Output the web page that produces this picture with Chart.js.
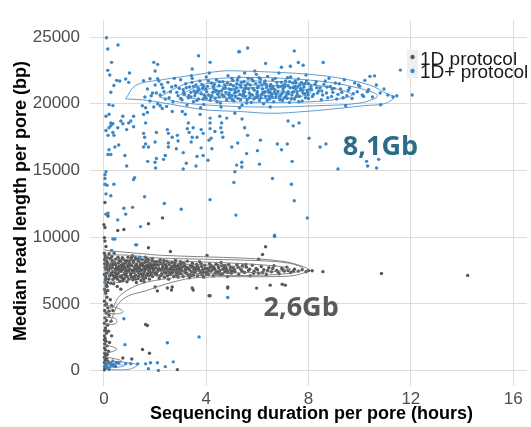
<!DOCTYPE html>
<html lang="en">
<head>
    <meta charset="UTF-8">
    <title>Median read length vs sequencing duration</title>
    <script src="https://cdn.jsdelivr.net/npm/chart.js"></script>
    <style>
        body {
            margin: 0;
            background-color: #ffffff;
            overflow: hidden;
        }

        #wrap {
            width: 531px;
            height: 427px;
        }
    </style>
</head>
<body>
    <div id="wrap"><canvas id="myChart"></canvas></div>

    <script>
        // Series names and tick values
        const seriesNames = ["1D protocol", "1D+ protocol"];
        const xTicks = [0, 4, 8, 12, 16];
        const yTicks = [0, 5000, 10000, 15000, 20000, 25000];
        const yieldLabels = ["8,1Gb", "2,6Gb"];

        // 1D+ protocol (blue), scattered points
        const bluePoints = [
            [0.1,24950],[0.15,24100],[0.55,24400],[0.3,23100],[0.15,22500],[0.23,22150],[1.95,23100],[2.1,22950],
            [3.7,23600],[4.15,23100],[5.3,23900],[2.0,22450],[3.45,22600],[1.0,22300],[0.5,21750],[0.62,21700],
            [0.85,21850],[0.97,21600],[1.55,21730],[1.8,21870],[2.1,21870],[0.39,21370],[0.27,20860],[0.2,19930],
            [0.35,19860],[0.08,19060],[0.2,19210],[0.27,18560],[0.74,19060],[0.66,18700],[1.05,18700],[1.16,19060],
            [1.5,19850],[1.63,19700],[1.7,19350],[1.55,19200],[2.2,19850],[2.28,19640],[2.67,19420],[3.06,19420],
            [3.18,19210],[3.3,18560],[3.76,19200],[4.15,18920],[4.15,18560],[4.53,19060],[4.6,18560],[4.8,18920],
            [5.12,19280],[5.4,18850],
            [0.08,17990],[0.2,18200],[0.27,18350],[0.35,18500],[0.16,17630],[0.39,17630],[0.35,17850],[0.54,18200],
            [0.74,18500],[0.97,18560],[1.16,18270],[1.63,18560],[0.89,18060],[0.2,16550],[0.16,16190],[0.27,16190],
            [0.43,16760],[0.58,16900],[0.82,16120],[0.89,15330],[1.55,17780],[1.59,17490],[1.63,16980],[1.74,16760],
            [1.55,16760],[2.05,17850],[2.0,17130],[1.71,15680],[2.0,15610],[2.05,15900],[2.33,15830],[2.4,16120],
            [2.02,15180],[2.48,18060],[2.52,17780],[2.67,17490],[2.87,17630],[2.9,17200],[2.52,17060],[2.52,16760],
            [2.83,16620],[3.1,16330],[3.22,15540],[3.1,15110],[3.26,18130],[3.45,17490],[3.64,17490],[3.41,17130],
            [3.33,17850],[3.49,18200],[3.8,18060],[3.88,17780],[3.8,16690],[3.88,16120],[3.64,16050],[3.6,15330],
            [4.07,15760],[4.15,18130],[4.19,17420],[4.22,16620],[4.11,17270],[4.34,17920],[4.61,17850],[4.65,17490],
            [4.57,18200],[5.0,16760],[5.23,17060],[5.19,15400],[5.39,15260],[5.12,14900],
            [0.08,14900],[0.04,14680],[0.04,14390],[0.04,13960],[0.12,13890],[0.08,13240],[0.27,13100],[0.39,13960],
            [1.2,14460],[1.16,14320],[1.59,13030],[2.36,12520],[3.02,12090],[4.15,12810],[5.08,14100],[5.16,11650],
            [0.08,11720],[0.16,11800],[0.78,12160],[1.12,12230],[0.85,11720],[0.54,11290],[1.43,10790],
            [5.5,18200],[5.62,17630],[6.12,17270],[5.58,16260],[6.0,16480],[5.39,15610],[6.08,15470],[6.78,16980],
            [6.94,16550],[7.17,16980],[7.36,15680],[7.4,18340],[7.63,18560],[7.2,18700],[8.02,17420],[8.45,16760],
            [8.68,16980],[9.15,15110],[10.27,15680],[10.31,15330],[10.66,15180],[10.74,15830],
            [6.59,14390],[7.33,13960],[7.44,12730],[7.95,11430],[6.67,10140],
            [5.27,23890],[5.62,24180],[7.44,23960],[6.32,23020],[6.94,22730],[7.29,22810],[7.6,23090],[7.79,22880],
            [8.57,23090],[10.58,22090],[11.59,22520],[12.05,20650],[10.82,19920],
            [0.43,9860],[1.28,9420],[0.35,9860],[1.24,9420],[1.4,8490],[4.84,5470],[0.3,9000],[0.04,6620],
            [0.78,3880],[3.72,2520],[2.48,2080],[0.82,1940],[2.71,650],[2.4,290],[2.09,580],[1.82,580],
            [1.74,140],[2.13,0],[1.63,500],[1.32,500],[1.05,500],[0.85,500],[0.58,580],[0.16,580],
            [0.27,360],[0.2,140],[0.35,720],[0.12,290],[0.3,500],[0.4,400],
            // dense core
            [1.6,20500],[1.7,21100],[1.8,20200],[1.9,20800],[2.0,21400],[2.1,20000],[2.2,20650],[2.3,21200],
            [2.4,20350],[2.5,21600],[2.6,20900],[2.7,20150],[2.8,21350],[2.9,20600],[3.0,21800],[2.15,21700],
            [2.45,19800],[2.75,21900],[1.95,19750],
            [3.05,20300],[3.1,21050],[3.15,20700],[3.2,21500],[3.25,19900],[3.3,20450],[3.35,21250],[3.4,20850],
            [3.45,21900],[3.5,20150],[3.55,20600],[3.6,21400],[3.65,20950],[3.7,20350],[3.75,21700],[3.8,20750],
            [3.85,21150],[3.9,19950],[3.95,20500],[4.0,22000],[4.05,21300],[4.1,20650],[4.15,20250],[4.2,21550],
            [4.25,20850],[4.3,21100],[4.35,20400],[4.4,21800],[4.45,20700],[4.5,21350],[4.55,20050],[4.6,20950],
            [4.65,21650],[4.7,20550],[4.75,21200],[4.8,20300],[4.85,22100],[4.9,20800],[4.95,21450],[3.42,22100],
            [3.78,19700],[4.12,22300],[4.58,19750],
            [5.0,20600],[5.04,21750],[5.08,20200],[5.12,21050],[5.16,20850],[5.2,21500],[5.24,20400],[5.28,22000],
            [5.32,20700],[5.36,21250],[5.4,19900],[5.44,20950],[5.48,21650],[5.52,20550],[5.56,21150],[5.6,20300],
            [5.64,21900],[5.68,20800],[5.72,21400],[5.76,20100],[5.8,20650],[5.84,21700],[5.88,21000],[5.92,20450],
            [5.96,22200],[6.0,20900],[6.04,21300],[6.08,20250],[6.12,21850],[6.16,20700],[6.2,21100],[6.24,20000],
            [6.28,21550],[6.32,20550],[6.36,21250],[6.4,22050],[6.44,20850],[6.48,20350],[6.52,21450],[6.56,20700],
            [6.6,21800],[6.64,20150],[6.68,21050],[6.72,20500],[6.76,21600],[6.8,20900],[6.84,22300],[6.88,20300],
            [6.92,21300],[6.96,20750],[5.3,19700],[6.5,19750],[5.9,22450],[5.5,22300],
            [7.0,21100],[7.05,20450],[7.1,21700],[7.15,20800],[7.2,21350],[7.25,20100],[7.3,22000],[7.35,20650],
            [7.4,21200],[7.45,20350],[7.5,21550],[7.55,20900],[7.6,21850],[7.65,20550],[7.7,21150],[7.75,20200],
            [7.8,21450],[7.85,20750],[7.9,22150],[7.95,21000],[8.0,20400],[8.1,21300],[8.2,20700],[8.3,21650],
            [8.4,20950],[8.5,20300],[8.6,21450],[8.7,20800],[8.8,21900],[8.9,20550],[9.0,21150],
            [9.1,20350],[9.2,21500],[9.3,20850],[9.4,21800],[9.5,20600],[9.6,21200],[9.7,20400],[9.8,21550],
            [9.9,20900],[10.0,21300],[10.1,20650],[10.2,21750],[10.35,21050],[10.5,20500],[10.65,21400],[10.8,20800],
            [10.95,21100],[11.1,20650],[11.3,20500],[11.45,20600],[9.45,19850],[10.4,22050],
            [3.12,20850],[3.22,21200],[3.32,20600],[3.44,21600],[3.52,20950],[3.63,20250],[3.72,21050],[3.83,21450],
            [3.92,20650],[4.02,20900],[4.08,21700],[4.18,20450],[4.27,21300],[4.37,20950],[4.42,20150],[4.52,21650],
            [4.62,20650],[4.67,21150],[4.77,20850],[4.83,21550],[4.92,20450],[4.98,21050],[5.06,21350],[5.14,20550],
            [5.22,21800],[5.26,20950],[5.34,20300],[5.38,21600],[5.46,20750],[5.54,21350],[5.58,20050],[5.66,21100],
            [5.74,20700],[5.78,21850],[5.86,20350],[5.94,21500],[6.02,20600],[6.06,21950],[6.14,20450],[6.18,21400],
            [6.26,20800],[6.3,21700],[6.38,20250],[6.42,21000],[6.5,21300],[6.58,20500],[6.62,21150],[6.7,21900],
            [6.74,20700],[6.82,21250],[6.86,20550],[6.94,21600],[6.98,20250],[7.02,20900],[7.08,21450],[7.12,20600],
            [7.18,21950],[7.22,20750],[7.28,21200],[7.32,20350],[7.38,21550],[7.42,20900],[7.48,21700],[7.52,20550],
            [7.58,21300],[7.62,20150],[7.68,21000],[7.72,21600],[7.78,20800],[7.82,21250],[7.88,20450],[7.92,21700],
            [7.98,20650],[8.05,21100],[8.15,20550],[8.25,21450],[8.35,20800],[8.45,21200],[8.55,20650],[8.65,21700],
            [8.75,20450],[8.85,21300],[8.95,20850],[9.05,21550],[9.15,20700],[9.25,21100],[9.35,20450],[9.55,21000],
            [9.75,20750],[9.95,21400],[10.15,20550],[10.3,20900],[2.35,20900],[2.55,20450],[2.65,21250],[2.85,20850],
            [2.95,21150],[2.25,21450],[1.85,20600],[2.05,20800],[3.0,20400],[3.5,21300],[4.0,20400],[4.5,20500],
            [5.0,21900],[5.5,20900],[6.0,21200],[6.5,20850],[7.0,21350],[7.5,21100],[8.0,21500],
            [3.58,20800],[3.68,21200],[3.88,20350],[3.98,21100],[4.22,20600],[4.32,21450],[4.48,20900],[4.72,21400],
            [4.88,20650],[5.02,20300],[5.18,21200],[5.32,21400],[5.42,20600],[5.62,21500],[5.7,20450],[5.82,21150],
            [5.98,20750],[6.1,21600],[6.22,20850],[6.34,21450],[6.46,20550],[6.54,21100],[6.66,20850],[6.78,21350],
            [6.9,20600],[7.06,21250],[7.16,20400],[7.26,21650],[7.36,20850],[7.46,21300],[7.56,20700],[7.66,21400],
            [7.76,21000],[7.86,21500],[7.96,20850],[8.12,21050],[8.32,21200],[8.52,20950],[8.72,21250],[8.92,21100],
            [4.4,21000],[4.9,21100],[5.5,21100],[6.0,20500],[6.6,21300],[7.2,20900],[3.4,20500],[3.9,21300],
            [5.1,20800],[6.3,20900]
        ];

        // 1D protocol (grey), scattered points
        const greyPoints = [
            [0.04,12590],[0.16,11580],[0.0,10930],[0.04,10720],[0.54,10500],[0.78,10570],[1.74,11000],[2.29,11440],
            [1.74,9200],[2.6,8920],[6.67,10070],[6.32,9280],[6.2,8700],[6.05,8340],[8.14,7480],[8.56,7410],
            [10.85,7270],[14.22,7130],[5.97,6180],[6.5,6400],[6.97,6470],[7.09,6400],[4.84,6180],[4.11,5610],
            [4.03,8630],[2.09,5970],[2.48,6190],[2.67,6260],[2.64,6040],[3.45,6190],[3.49,6040],[4.15,5610],
            [4.84,6260],[2.0,6260],[1.63,3450],[1.7,3380],[1.51,1580],[1.78,1290],[2.87,70],[1.09,860],[0.74,940],
            // column along the left edge
            [0.02,8800],[0.05,8400],[0.03,8000],[0.08,7600],[0.02,7200],[0.06,6800],[0.1,6400],[0.03,6100],
            [0.07,5800],[0.12,5500],[0.02,5200],[0.05,4900],[0.15,4700],[0.03,4500],[0.09,4300],[0.2,4150],
            [0.04,3950],[0.1,3750],[0.02,3550],[0.14,3400],[0.06,3200],[0.03,3000],[0.1,2800],[0.02,2600],
            [0.05,2400],[0.08,2200],[0.03,2000],[0.12,1850],[0.02,1700],[0.06,1550],[0.18,1450],[0.03,1300],
            [0.08,1150],[0.02,1000],[0.11,900],[0.05,800],[0.15,700],[0.02,600],[0.25,550],[0.07,450],
            [0.35,400],[0.03,300],[0.12,250],[0.04,150],[0.2,100],[0.02,50],[0.5,600],[0.45,300],
            [0.15,6000],[0.25,5300],[0.2,4450],[0.28,3700],[0.18,2950],[0.3,2600],[0.22,2100],[0.08,9300],
            [0.04,9700],[0.02,9950],[0.1,5000],[0.06,3000],[0.3,4850],[0.35,4500],[0.02,2300],[0.13,1200],
            // dense band
            [0.05,8600],[0.1,8200],[0.12,7900],[0.18,7500],[0.22,7100],[0.08,6900],[0.15,6600],[0.25,8400],
            [0.3,8000],[0.33,7700],[0.28,7300],[0.35,6800],[0.4,8800],[0.42,8100],[0.45,7600],[0.48,7200],
            [0.5,7000],[0.55,8500],[0.58,7800],[0.6,7400],[0.62,6700],[0.65,8200],[0.68,7900],[0.7,7100],
            [0.73,7550],[0.76,8350],[0.8,6900],[0.82,7700],[0.85,8050],[0.88,7300],[0.9,6650],[0.93,7850],
            [0.96,7450],[0.98,8150],[0.2,8750],[0.38,6500],[0.52,6300],[0.66,6100],[0.12,6300],[0.06,5900],
            [0.3,7850],[0.44,7350],[0.57,8050],[0.71,7750],[0.84,7150],
            [1.02,7600],[1.05,8300],[1.08,7000],[1.1,7850],[1.13,6800],[1.15,8100],[1.18,7350],[1.2,7700],
            [1.23,8450],[1.25,7150],[1.28,7950],[1.3,7450],[1.33,6900],[1.35,8200],[1.38,7650],[1.4,7250],
            [1.43,8000],[1.45,6750],[1.48,7550],[1.5,8300],[1.53,7100],[1.55,7800],[1.58,7400],[1.6,8100],
            [1.63,6950],[1.65,7650],[1.68,8350],[1.7,7250],[1.73,7900],[1.75,7500],[1.78,6850],[1.8,8050],
            [1.83,7350],[1.85,7750],[1.88,8250],[1.9,7050],[1.93,7600],[1.96,7950],[1.98,7300],[1.12,8600],
            [1.62,8500],[1.27,6600],[1.57,6650],
            [2.02,7700],[2.05,8150],[2.08,7150],[2.1,7450],[2.13,7900],[2.16,6900],[2.2,8300],[2.23,7550],
            [2.26,7250],[2.3,7800],[2.33,8050],[2.36,7000],[2.4,7650],[2.43,7350],[2.46,8200],[2.5,7500],
            [2.53,6850],[2.56,7950],[2.6,7200],[2.63,7700],[2.66,8100],[2.7,7400],[2.73,7050],[2.76,7850],
            [2.8,8250],[2.83,7300],[2.86,7600],[2.9,7000],[2.93,7950],[2.96,7450],[2.99,8150],
            [3.02,7250],[3.06,7750],[3.1,7050],[3.14,8000],[3.18,7500],[3.22,7300],[3.26,8200],[3.3,7650],
            [3.34,6950],[3.38,7850],[3.42,7400],[3.46,8050],[3.5,7150],[3.54,7700],[3.58,7450],[3.62,7950],
            [3.66,7100],[3.7,7600],[3.74,8150],[3.78,7300],[3.82,7800],[3.86,7550],[3.9,7000],[3.94,7900],
            [3.98,7350],
            [4.03,7650],[4.08,7200],[4.13,8000],[4.18,7450],[4.23,7800],[4.28,7100],[4.33,7600],[4.38,7950],
            [4.43,7300],[4.48,7700],[4.53,7500],[4.58,8100],[4.63,7250],[4.68,7850],[4.73,7400],[4.78,7650],
            [4.83,7050],[4.88,7950],[4.93,7550],[4.98,7300],
            [5.05,7700],[5.12,7400],[5.2,7950],[5.27,7200],[5.35,7600],[5.42,7850],[5.5,7350],[5.57,7750],
            [5.65,7500],[5.72,7100],[5.8,7900],[5.87,7450],[5.95,7650],
            [6.05,7300],[6.15,7800],[6.25,7550],[6.35,7200],[6.45,7700],[6.55,7400],[6.65,7850],[6.75,7500],
            [6.85,7250],[6.95,7650],[7.05,7450],[7.15,7750],[7.3,7350],[7.45,7600],[7.6,7450],[7.75,7550],
            [7.9,7400],[8.0,7500],
            [0.15,8050],[0.25,7650],[0.35,7400],[0.45,7950],[0.55,7250],[0.65,7600],[0.75,8000],[0.85,7450],
            [0.95,7750],[1.05,7150],[1.15,7500],[1.25,7900],[1.35,7350],[1.45,8050],[1.55,7250],[1.65,7850],
            [1.75,7100],[1.85,7950],[1.95,7550],[2.05,7350],[2.15,7650],[2.25,8000],[2.35,7450],[2.45,7800],
            [2.55,7250],[2.65,7550],[2.75,7950],[2.85,7150],[2.95,7700],[3.05,7500],[3.15,7850],[3.25,7250],
            [3.35,7550],[3.45,7750],[3.55,7350],[3.65,7850],[3.75,7450],[3.85,7150],[3.95,7650],[4.05,7400],
            [4.15,7750],[4.25,7550],[4.35,7300],[4.45,7900],[4.55,7200],[4.65,7600],[4.75,7850],[4.85,7350],
            [4.95,7750],[5.1,7550],[5.25,7750],[5.4,7450],[5.55,7950],[5.7,7600],[5.85,7300],[6.0,7550],
            [6.2,7350],[6.4,7500],[6.6,7650],[6.8,7400],[7.0,7550],[7.2,7500],[7.4,7450],[0.1,7300],
            [0.2,7850],[0.4,7050],[0.6,8300],[0.8,7250],[1.0,8050],[1.2,7050],[1.4,7800],[1.6,7550],
            [1.8,7600],[2.0,7950],[2.2,7100],[2.4,7950],[2.6,7400],[2.8,7750],[3.0,7950],[3.2,7650],
            [3.4,7100],[3.6,7600],[3.8,8000],[4.0,7250],[4.2,7850],[4.4,7450],[4.6,7850],[4.8,7500],
            [5.0,7450],[0.05,7750],[0.32,8250],[0.5,7550],[0.7,6950],[0.9,8200],[1.1,7350],[1.3,7650],
            [1.5,7000],[1.7,8150],[1.9,7800],
            [0.03,8300],[0.07,7050],[0.11,7650],[0.14,8450],[0.19,6850],[0.23,7750],[0.27,6550],[0.31,8550],
            [0.34,7150],[0.37,7950],[0.41,6950],[0.46,8350],[0.49,7750],[0.53,6850],[0.56,7650],[0.59,8150],
            [0.63,7050],[0.67,7450],[0.72,8450],[0.74,6750],[0.78,7850],[0.83,8250],[0.87,7550],[0.91,7050],
            [0.94,8500],[0.97,6850],[1.01,7900],[1.04,7250],[1.07,8450],[1.11,7500],[1.14,6950],[1.17,8250],
            [1.21,7600],[1.24,6850],[1.29,8350],[1.32,7750],[1.36,7050],[1.39,8400],[1.42,7450],[1.46,7900],
            [1.49,7200],[1.52,8000],[1.56,6900],[1.59,7700],[1.64,8250],[1.67,7150],[1.71,7750],[1.74,8300],
            [1.77,7350],[1.82,7800],[1.86,7150],[1.89,8400],[1.92,7400],[1.97,8100],[2.03,7250],[2.07,7950],
            [2.12,7550],[2.18,8150],[2.24,7150],[2.28,7650],[2.34,8250],[2.38,7350],[2.44,7700],[2.48,7100],
            [2.54,8050],[2.58,7650],[2.64,7300],[2.68,7800],[2.74,7550],[2.78,8100],[2.84,7450],[2.88,7850],
            [2.94,7250],[2.98,7600],[3.08,8050],[3.16,7400],[3.24,7750],[3.32,7150],[3.44,7900],[3.52,7550],
            [3.68,7750],[3.88,7400],[4.1,7550],[4.3,7700],[4.5,7400],[4.7,7650]
        ];

        // Density contour lines
        const blueContours = [
            [[0.85,20360],[1.24,21370],[2.29,21800],[3.57,22160],[4.61,22450],[5.39,22450],[6.55,22370],[7.87,22230],
             [9.15,21940],[10.43,21370],[11.09,20720],[11.36,20500],[10.97,20000],[10.19,19860],[9.15,19640],[7.87,19420],
             [6.55,19280],[5.27,19420],[4.22,19500],[3.57,19640],[2.29,20070],[1.51,20290],[0.85,20360]],
            [[2.17,20500],[3.2,21500],[4.5,21900],[6.4,21950],[8.4,21700],[9.9,21200],[10.7,20600],[10.0,20050],
             [8.3,19850],[6.4,19750],[4.5,19850],[3.0,20100],[2.17,20500]],
            [[3.0,20700],[4.0,21500],[5.5,21700],[7.3,21600],[9.0,21150],[9.7,20650],[8.8,20250],[7.0,20100],
             [5.0,20150],[3.6,20350],[3.0,20700]],
            [[3.6,20800],[4.5,21300],[6.0,21400],[7.5,21200],[8.1,20800],[7.3,20450],[5.8,20400],[4.3,20500],[3.6,20800]],
            [[4.2,20850],[5.0,21150],[6.3,21150],[7.0,20850],[6.2,20600],[5.0,20650],[4.2,20850]],
            [[0.04,650],[0.6,650],[1.3,430],[1.0,100],[0.3,70],[0.04,200],[0.04,650]],
            [[0.1,500],[0.5,480],[0.8,360],[0.5,250],[0.1,300],[0.1,500]]
        ];

        const greyContours = [
            [[0.0,9060],[0.16,8990],[1.36,8780],[2.29,8630],[5.5,8420],[6.94,8200],[7.6,7910],[8.0,7550],
             [7.6,7190],[6.94,7050],[3.72,6980],[2.67,6620],[1.63,5970],[0.97,5610],[0.58,5040],[0.39,4320],
             [0.23,3600],[0.02,3400]],
            [[0.04,7910],[0.16,8630],[2.29,8420],[5.5,8270],[7.2,8060],[7.8,7620],[7.2,7270],[5.5,7120],
             [3.72,7120],[2.56,6910],[1.4,6470],[0.62,5610],[0.31,4680],[0.08,5040],[0.04,7910]],
            [[0.2,8350],[2.0,8250],[5.0,8050],[6.9,7800],[7.3,7600],[6.5,7400],[4.5,7300],[2.5,7200],
             [1.2,6900],[0.5,6600],[0.2,7200],[0.2,8350]],
            [[0.3,8100],[2.0,8050],[4.0,7900],[5.5,7750],[4.5,7500],[2.5,7450],[1.0,7350],[0.3,7500],[0.3,8100]],
            [[0.02,4900],[0.5,4700],[0.75,4400],[0.5,4250],[0.02,4300]],
            [[0.02,4000],[0.45,3900],[0.5,3600],[0.3,3450],[0.02,3500]],
            [[0.02,1900],[0.3,1800],[0.5,1600],[0.3,1400],[0.02,1350]],
            [[0.02,1000],[0.4,900],[0.7,700],[0.4,500],[0.02,450]]
        ];

        const BLUE = "#3a86c6";
        const GREY = "#575757";

        const toXY = arr => arr.map(p => ({ x: p[0], y: p[1] }));

        function contourSet(lines, color, order) {
            return lines.map(line => ({
                label: "",
                data: toXY(line),
                showLine: true,
                borderColor: color,
                borderWidth: 1,
                pointRadius: 0,
                tension: 0.35,
                fill: false,
                order: order
            }));
        }

        // Legend and yield labels drawn by hand, ggplot-like
        const extras = {
            id: "extras",
            afterDatasetsDraw(chart) {
                const c = chart.ctx;
                const sx = chart.scales.x, sy = chart.scales.y;
                c.save();

                // yield labels
                c.font = "bold 27px 'Open Sans'";
                c.textAlign = "center";
                c.textBaseline = "middle";
                c.fillStyle = "#2c6c8a";
                c.fillText(yieldLabels[0], sx.getPixelForValue(10.81), sy.getPixelForValue(16760));
                c.fillStyle = "#5a5a5a";
                c.fillText(yieldLabels[1], sx.getPixelForValue(7.71), sy.getPixelForValue(4680));

                // legend
                c.fillStyle = "#efefef";
                c.fillRect(407, 50, 11, 28);
                c.fillStyle = GREY;
                c.beginPath(); c.arc(412.5, 57, 2.2, 0, Math.PI * 2); c.fill();
                c.fillStyle = BLUE;
                c.beginPath(); c.arc(412.5, 71, 2.2, 0, Math.PI * 2); c.fill();
                c.fillStyle = "#1a1a1a";
                c.font = "19px 'Liberation Sans'";
                c.textAlign = "left";
                c.textBaseline = "alphabetic";
                c.fillText(seriesNames[0], 420, 65);
                c.fillText(seriesNames[1], 420, 78);
                c.restore();
            }
        };

        const ctx = document.getElementById("myChart").getContext("2d");

        new Chart(ctx, {
            type: "scatter",
            data: {
                datasets: [
                    {
                        label: seriesNames[1],
                        data: toXY(bluePoints),
                        backgroundColor: BLUE,
                        borderWidth: 0,
                        pointRadius: 1.7,
                        order: 0
                    },
                    ...contourSet(blueContours, "rgba(74,140,200,0.85)", 1),
                    ...contourSet(greyContours, "rgba(120,120,120,0.9)", 2),
                    {
                        label: seriesNames[0],
                        data: toXY(greyPoints),
                        backgroundColor: GREY,
                        borderWidth: 0,
                        pointRadius: 1.7,
                        order: 3
                    }
                ]
            },
            options: {
                responsive: true,
                maintainAspectRatio: false,
                animation: false,
                layout: { padding: { top: 5, right: 0, left: 0, bottom: 0 } },
                plugins: {
                    legend: { display: false },
                    tooltip: { enabled: false }
                },
                scales: {
                    x: {
                        type: "linear",
                        min: -0.31,
                        max: 16.54,
                        afterBuildTicks: s => { s.ticks = xTicks.map(v => ({ value: v })); },
                        afterFit: s => { s.height = 45; },
                        border: { display: false },
                        grid: { color: "#dcdcdc", lineWidth: 1, tickLength: 4 },
                        ticks: {
                            color: "#4d4d4d",
                            padding: 3,
                            maxRotation: 0,
                            callback: v => String(v),
                            font: { family: "'Liberation Sans'", size: 17 }
                        },
                        title: {
                            display: true,
                            text: "Sequencing duration per pore (hours)",
                            color: "#000",
                            padding: { top: 0, bottom: 2 },
                            font: { family: "'Liberation Sans'", size: 18, weight: "bold" }
                        }
                    },
                    y: {
                        type: "linear",
                        min: -860,
                        max: 26260,
                        afterBuildTicks: s => { s.ticks = yTicks.map(v => ({ value: v })); },
                        afterFit: s => { s.width = 96; },
                        border: { display: false },
                        grid: { color: "#dcdcdc", lineWidth: 1, tickLength: 6 },
                        ticks: {
                            color: "#4d4d4d",
                            padding: 10,
                            callback: v => String(v),
                            font: { family: "'Liberation Sans'", size: 17 }
                        },
                        title: {
                            display: true,
                            text: "Median read length per pore (bp)",
                            color: "#000",
                            padding: { top: 10, bottom: 0 },
                            font: { family: "'Liberation Sans'", size: 18, weight: "bold" }
                        }
                    }
                }
            },
            plugins: [extras]
        });
    </script>
</body>
</html>
